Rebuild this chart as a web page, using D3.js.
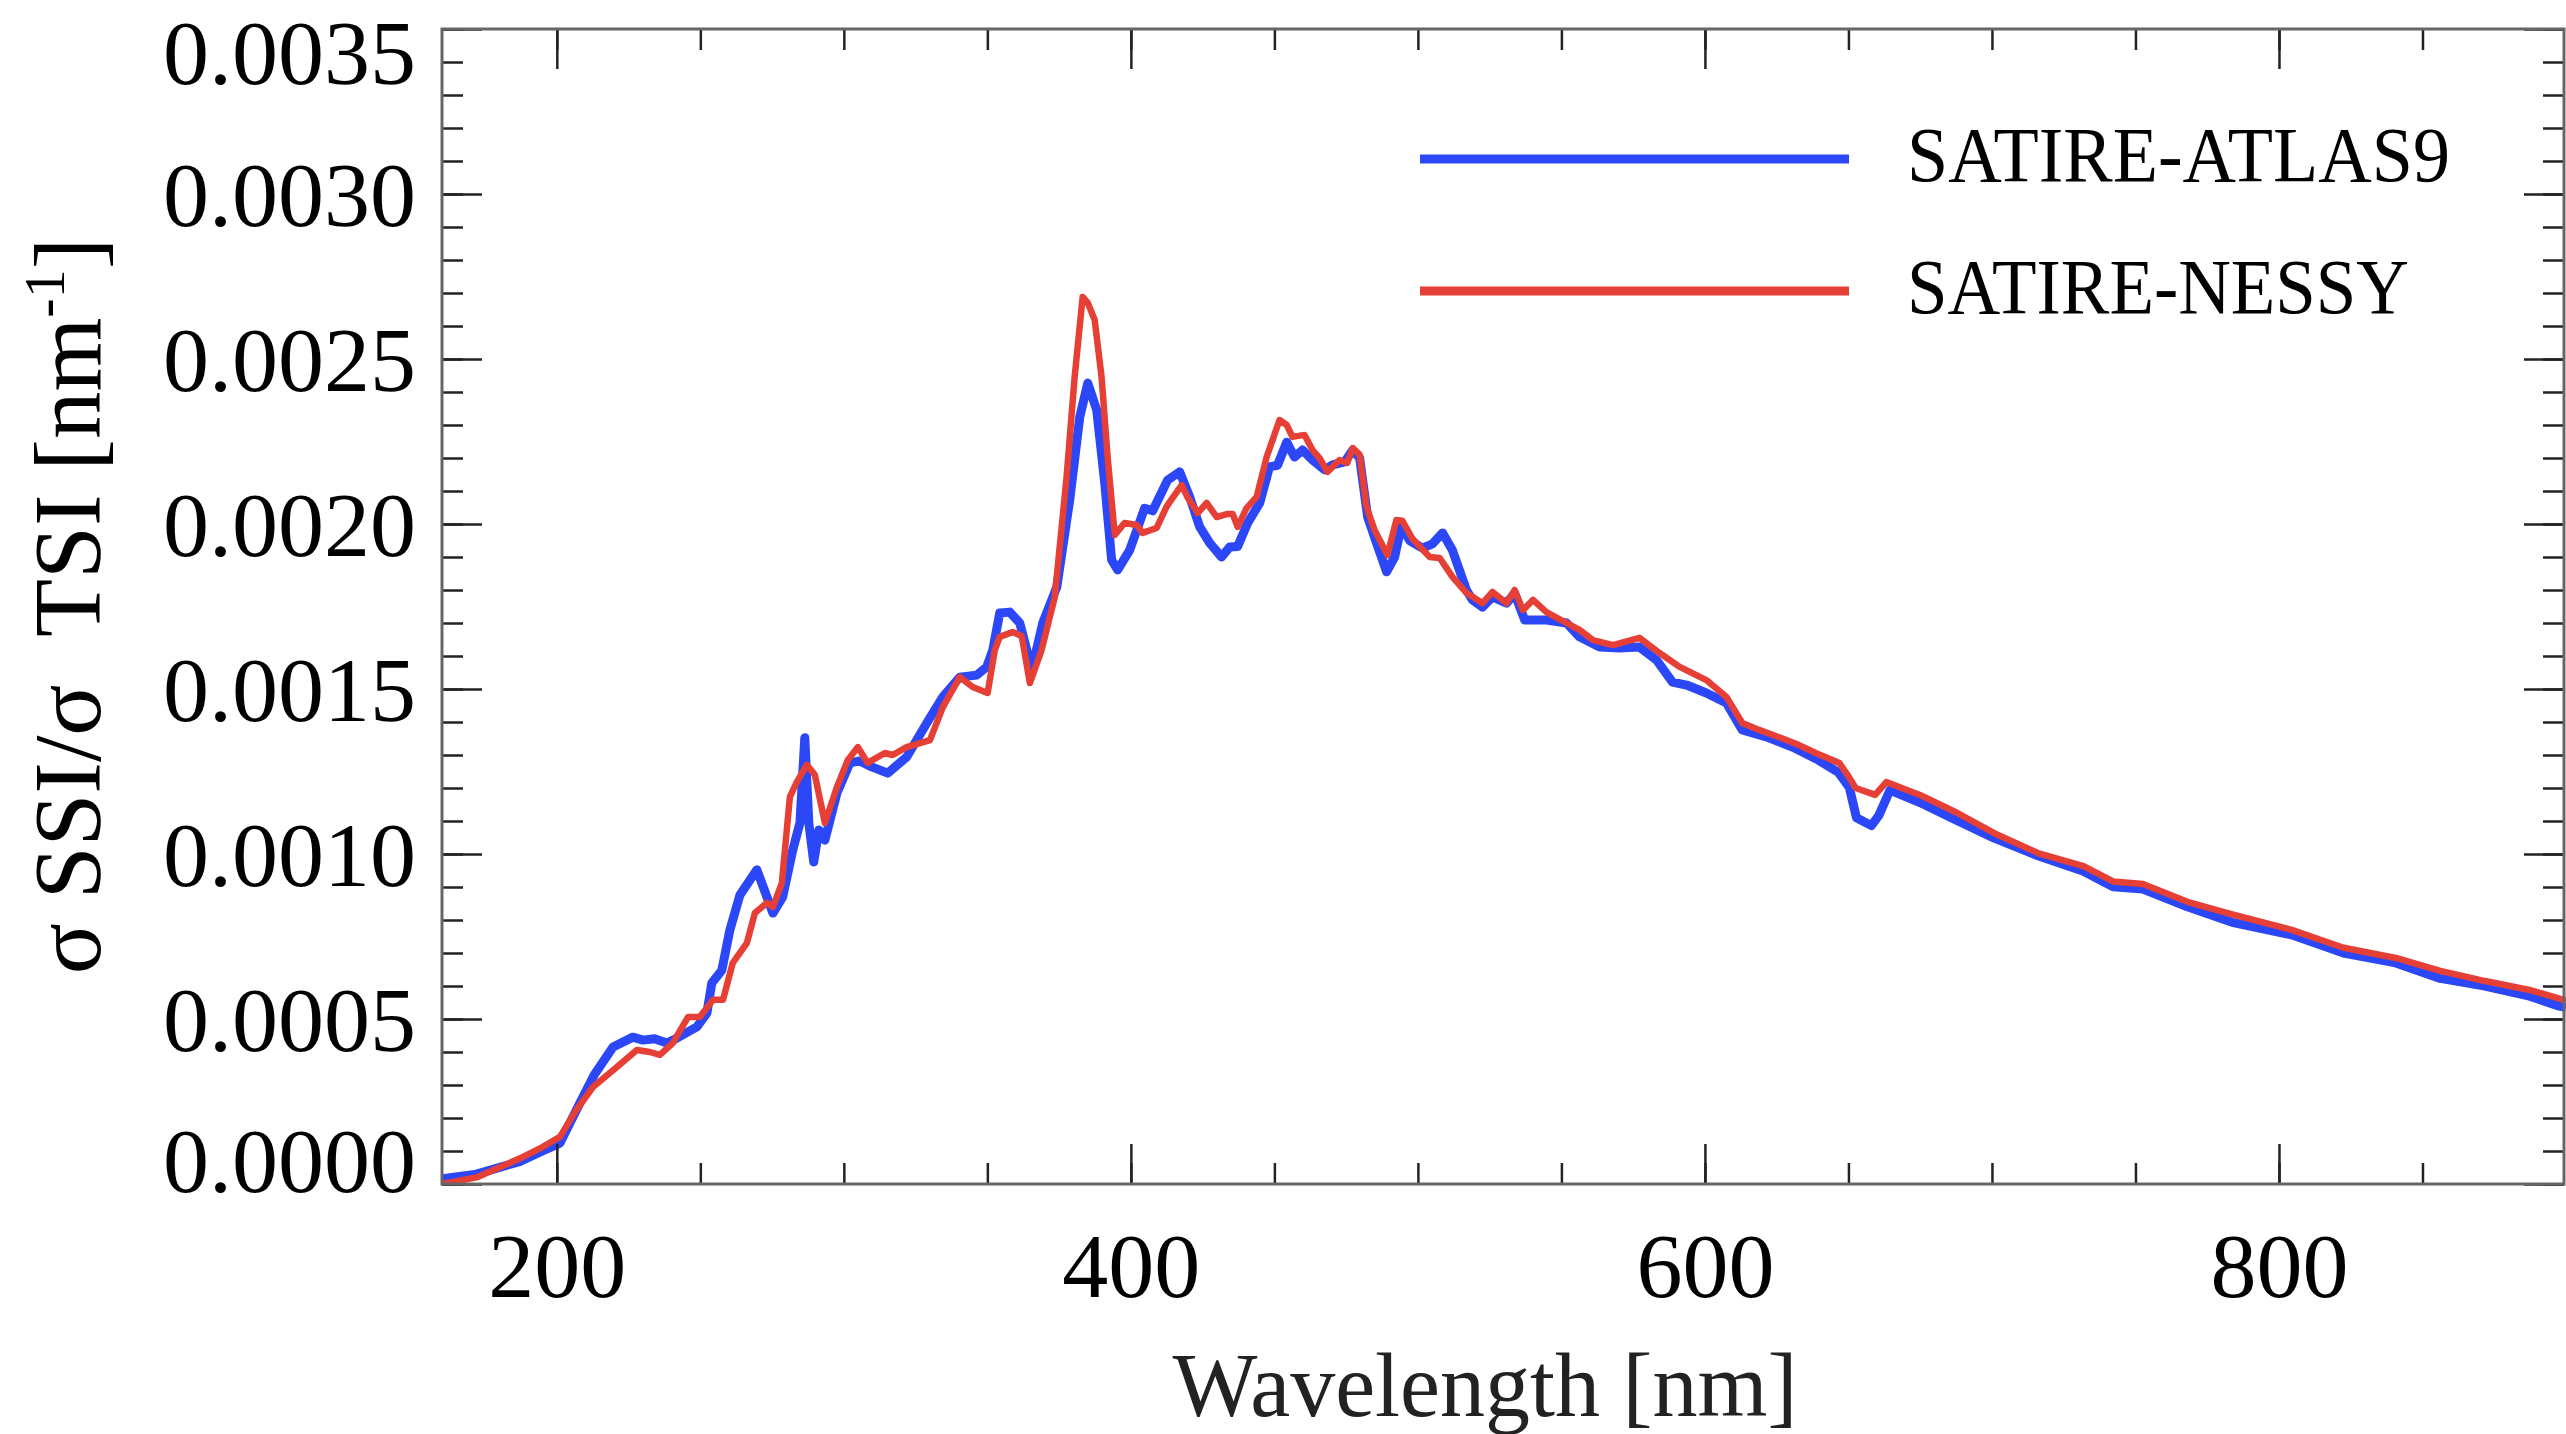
<!DOCTYPE html>
<html><head><meta charset="utf-8">
<script src="https://cdn.jsdelivr.net/npm/d3@7"></script>
<style>html,body{margin:0;padding:0;background:#fff;}svg{display:block;}</style>
</head><body>
<svg id="chart" width="2566" height="1434"></svg>
<script>
const atlasWl = [160,172,187,195,201.1,208,213,219.6,226.5,230,234,238.4,241.8,248.8,252.3,254,257.5,260.3,263.8,269.7,275.3,278.7,282.2,284.7,286.4,287.8,289.5,291.3,293.4,297.6,302.1,305.6,309.7,315.3,321.9,328.9,334.5,340.4,346.3,349.8,351.9,354.3,357.8,361.3,365.5,369.3,374.2,378.7,382.2,385,388.1,390.9,393.3,395.4,399.6,404.8,407.6,412.8,417,420.5,424,427.5,431.6,434.4,437.2,440.7,444.9,448.3,451.1,454.3,457,459.8,463.3,467.5,470.3,474.5,477.3,479.7,482.5,485.6,489.1,491.9,494.3,497.1,501.6,505.1,508.6,512,516.9,519,522.5,526,530.9,533.7,537.2,544.8,551.8,556.3,563.3,570.2,577.2,583.1,588.7,593.6,600.5,607.5,613,621.4,630.5,638.8,646.4,650.3,652.8,658,660.6,664.5,674.9,687.8,700.8,716.3,731.9,742.2,752.6,768.1,783.7,804.4,822.5,840.7,856.2,871.8,887.3,897.7,900];
const atlasVal = [0.000016,0.000030,0.000068,0.000100,0.000124,0.000245,0.000330,0.000415,0.000445,0.000436,0.000440,0.000427,0.000442,0.000476,0.000518,0.000609,0.000648,0.000770,0.000876,0.000952,0.000821,0.000870,0.001012,0.001094,0.001352,0.001094,0.000976,0.001073,0.001042,0.001185,0.001276,0.001282,0.001264,0.001245,0.001294,0.001397,0.001476,0.001536,0.001542,0.001567,0.001618,0.001730,0.001733,0.001700,0.001558,0.001700,0.001809,0.002073,0.002324,0.002427,0.002345,0.002124,0.001891,0.001861,0.001921,0.002048,0.002040,0.002133,0.002158,0.002082,0.001991,0.001942,0.001900,0.001930,0.001932,0.002003,0.002064,0.002173,0.002178,0.002248,0.002203,0.002224,0.002194,0.002164,0.002179,0.002188,0.002224,0.002200,0.002021,0.001942,0.001855,0.001900,0.001997,0.001950,0.001927,0.001940,0.001973,0.001921,0.001800,0.001770,0.001748,0.001779,0.001760,0.001790,0.001709,0.001709,0.001700,0.001658,0.001627,0.001624,0.001627,0.001588,0.001521,0.001512,0.001488,0.001458,0.001376,0.001355,0.001324,0.001288,0.001248,0.001202,0.001110,0.001086,0.001117,0.001194,0.001156,0.001102,0.001048,0.000994,0.000948,0.000901,0.000894,0.000840,0.000793,0.000755,0.000700,0.000670,0.000623,0.000600,0.000569,0.000539,0.000535];

const nessyWl = [160,172,187,195,201.1,206.6,212.6,219.6,227.9,232.4,235.9,240.4,245.7,249.8,254.4,257.9,261.3,266.2,269,273.2,275.3,278.4,281.2,283.6,287.1,289.9,293.4,297.6,301.4,304.9,308.3,314.3,317,321.9,330,334.5,340.4,344.9,350.1,352.6,354.3,358.8,362,364.8,368.9,373.5,377.6,380.4,383.2,385,387.4,389.8,391.9,394.4,397.8,402,404.1,409,412.4,414.6,417.7,419.8,423.3,426.4,429.9,433.4,435.5,437.2,440.3,443.8,447.3,451.8,454.3,456.3,460.5,463.3,465.7,468.5,472.7,475.4,477.3,479.7,482.1,484.9,489.4,492.5,494.6,498.1,504.1,507.6,512.1,516.9,519,522.5,526,530.9,533.7,536.6,540.1,544.8,551.8,556.3,561,568,577.2,584.2,591.2,600.5,607.5,613,618.9,627,632.8,638.6,646.8,650.2,652.5,659.3,663.2,674.9,687.8,700.8,716.3,731.9,742.2,752.6,768.1,783.7,804.4,822.5,840.7,856.2,871.8,887.3,897.7,900];
const nessyVal = [0.000000,0.000020,0.000077,0.000112,0.000143,0.000222,0.000294,0.000345,0.000406,0.000400,0.000391,0.000427,0.000506,0.000506,0.000558,0.000558,0.000670,0.000730,0.000821,0.000852,0.000840,0.000912,0.001173,0.001218,0.001270,0.001240,0.001094,0.001203,0.001285,0.001324,0.001276,0.001306,0.001300,0.001324,0.001345,0.001445,0.001536,0.001506,0.001488,0.001618,0.001658,0.001673,0.001660,0.001518,0.001618,0.001779,0.002142,0.002445,0.002688,0.002670,0.002618,0.002445,0.002203,0.001967,0.002003,0.001997,0.001973,0.001988,0.002052,0.002080,0.002118,0.002080,0.002033,0.002064,0.002021,0.002030,0.002030,0.001991,0.002048,0.002082,0.002203,0.002315,0.002300,0.002264,0.002270,0.002224,0.002200,0.002158,0.002194,0.002185,0.002230,0.002210,0.002052,0.001982,0.001906,0.002012,0.002010,0.001955,0.001900,0.001897,0.001839,0.001791,0.001780,0.001760,0.001794,0.001760,0.001800,0.001739,0.001770,0.001733,0.001700,0.001679,0.001648,0.001633,0.001655,0.001609,0.001567,0.001527,0.001476,0.001397,0.001376,0.001350,0.001330,0.001306,0.001276,0.001233,0.001200,0.001179,0.001218,0.001179,0.001125,0.001063,0.001002,0.000963,0.000917,0.000909,0.000855,0.000817,0.000770,0.000716,0.000685,0.000646,0.000615,0.000588,0.000562,0.000555];

const seriesNames = ["SATIRE-ATLAS9", "SATIRE-NESSY"];
const xMajorTicks = [200, 400, 600, 800];
const xMinorTicks = [200,250,300,350,400,450,500,550,600,650,700,750,800,850];
const yMajorTicks = [0, 0.0005, 0.0010, 0.0015, 0.0020, 0.0025, 0.0030, 0.0035];
const yMinorTicks = d3.range(0, 36).map(i => i / 10000);
const xTitle = "Wavelength [nm]";

const svg = d3.select("#chart");
const L = 442, R = 2566, T = 29, B = 1184;
const x = d3.scaleLinear().domain([160, 900]).range([L, R]);
const y = d3.scaleLinear().domain([0, 0.0035]).range([B, T]);
const font = "'Liberation Serif', 'Times New Roman', serif";
const blue = "#2b47f7", red = "#e63f36";

svg.append("clipPath").attr("id","clip").append("rect")
  .attr("x", L).attr("y", T).attr("width", R - L).attr("height", B - T);

const line = d3.line().x(d => x(d[0])).y(d => y(d[1]));
const atlas = atlasWl.map((w, i) => [w, atlasVal[i]]);
const nessy = nessyWl.map((w, i) => [w, nessyVal[i]]);
const g = svg.append("g").attr("clip-path", "url(#clip)");
g.append("path").datum(atlas).attr("d", line).attr("fill","none")
  .attr("stroke", blue).attr("stroke-width", 9).attr("stroke-linejoin","round");
g.append("path").datum(nessy).attr("d", line).attr("fill","none")
  .attr("stroke", red).attr("stroke-width", 6.5).attr("stroke-linejoin","round");

function styleAxis(sel) {
  sel.select(".domain").remove();
  sel.selectAll(".tick line").attr("stroke", "#222").attr("stroke-width", 2.5);
}
const MAJ = 40, MIN = 21;
svg.append("g").attr("transform", `translate(0,${B})`)
  .call(d3.axisBottom(x).tickValues(xMinorTicks).tickSize(-MIN).tickFormat(""))
  .call(styleAxis);
const xb = svg.append("g").attr("transform", `translate(0,${B})`)
  .call(d3.axisBottom(x).tickValues(xMajorTicks).tickSize(-MAJ).tickFormat(d3.format("d")))
  .call(styleAxis);
xb.selectAll(".tick text").attr("y", 113).attr("dy", 0)
  .attr("font-family", font).attr("font-size", 92).attr("fill", "#000");
svg.append("g").attr("transform", `translate(0,${T})`)
  .call(d3.axisTop(x).tickValues(xMinorTicks).tickSize(-MIN).tickFormat("")).call(styleAxis);
svg.append("g").attr("transform", `translate(0,${T})`)
  .call(d3.axisTop(x).tickValues(xMajorTicks).tickSize(-MAJ).tickFormat("")).call(styleAxis);
svg.append("g").attr("transform", `translate(${L},0)`)
  .call(d3.axisLeft(y).tickValues(yMinorTicks).tickSize(-MIN).tickFormat("")).call(styleAxis);
const yl = svg.append("g").attr("transform", `translate(${L},0)`)
  .call(d3.axisLeft(y).tickValues(yMajorTicks).tickSize(-MAJ).tickFormat(d3.format(".4f")))
  .call(styleAxis);
yl.selectAll(".tick text").attr("x", -26).attr("dy", "0.34em")
  .attr("font-family", font).attr("font-size", 92).attr("fill", "#000")
  .attr("transform", d => d === 0.0035 ? "translate(0,23)" : (d === 0 ? "translate(0,-24)" : null));
svg.append("g").attr("transform", `translate(${R - 2},0)`)
  .call(d3.axisRight(y).tickValues(yMinorTicks).tickSize(-MIN).tickFormat("")).call(styleAxis);
svg.append("g").attr("transform", `translate(${R - 2},0)`)
  .call(d3.axisRight(y).tickValues(yMajorTicks).tickSize(-MAJ).tickFormat("")).call(styleAxis);

svg.append("rect").attr("x", L).attr("y", T).attr("width", R - 2 - L).attr("height", B - T)
  .attr("fill", "none").attr("stroke", "#666").attr("stroke-width", 3);

svg.append("text").attr("x", 1485).attr("y", 1416).attr("text-anchor", "middle")
  .attr("font-family", font).attr("font-size", 90).attr("fill", "#222").text(xTitle);
const yt = svg.append("text").attr("transform", "translate(100,606) rotate(-90)")
  .attr("text-anchor", "middle").attr("font-family", font).attr("font-size", 95)
  .attr("fill", "#000").style("white-space", "pre");
yt.append("tspan").text("σ SSI/σ  TSI [nm");
yt.append("tspan").attr("dy", -36).attr("font-size", 58).text("-1");
yt.append("tspan").attr("dy", 36).text("]");

const legY = [159, 291];
const legColors = [blue, red];
const legLen = [543, 502];
seriesNames.forEach((name, i) => {
  svg.append("line").attr("x1", 1420).attr("x2", 1849).attr("y1", legY[i]).attr("y2", legY[i])
    .attr("stroke", legColors[i]).attr("stroke-width", 9);
  svg.append("text").attr("x", 1907).attr("y", legY[i] + 22)
    .attr("font-family", font).attr("font-size", 78).attr("fill", "#000")
    .attr("textLength", legLen[i]).attr("lengthAdjust", "spacingAndGlyphs").text(name);
});
</script>
</body></html>
